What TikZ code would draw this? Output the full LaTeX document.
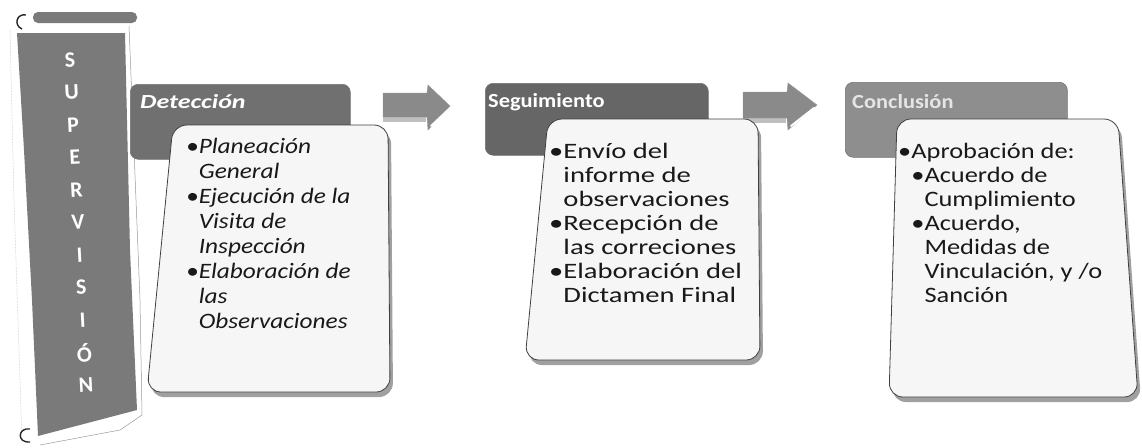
\documentclass[tikz,border=0pt]{standalone}
\usepackage{fontspec}
\setmainfont{Carlito}
\newfontfamily\detfont[FakeStretch=1.15]{Carlito}
\newfontfamily\segfont[FakeStretch=1.3]{Carlito}
\newfontfamily\confont[FakeStretch=1.2]{Carlito}
\newfontfamily\hdfontA[FakeStretch=1.3]{Carlito}
\newfontfamily\hdfontB[FakeStretch=1.12]{Carlito}
\newcommand{\firstline}{\rule{0pt}{20pt}}
\definecolor{bandgray}{HTML}{7A7A7A}
\definecolor{detgray}{HTML}{707070}
\definecolor{seggray}{HTML}{666666}
\definecolor{congray}{HTML}{8E8E8E}
\definecolor{boxfill}{HTML}{F6F6F6}
\definecolor{shadowgray}{HTML}{A0A0A0}
\definecolor{arrowgray}{HTML}{8A8A8A}
\begin{document}
\begin{tikzpicture}[x=1pt,y=-1pt,
  banletter/.style={text=white,font=\bfseries\fontsize{22}{22}\selectfont,inner sep=0pt,rotate=3},
  hdrbox/.style={rounded corners=8pt,draw=black!55,line width=0.6pt,inner sep=0pt,anchor=north west},
  hdrtext/.style={text=white,inner sep=0pt,anchor=base west},
  cardbox/.style={fill=boxfill,draw=black!75,line width=0.8pt,rounded corners=14pt},
  cardshadow/.style={fill=shadowgray,rounded corners=14pt},
  bodytext/.style={text=black!90,inner sep=0pt,anchor=north west,align=left},
  blockarrow/.style={fill=arrowgray,draw=black!40,line width=0.4pt},
  highlight/.style={draw=white,line width=2pt,line cap=round}
]
\useasboundingbox (0,0) rectangle (1142,447);
\fill[white] (0,0) rectangle (1142,447);

% ---- scroll banner ----
\draw[black!30,line width=0.5pt,densely dotted] (10,30) -- (14,200) -- (22,440);
\draw[black!40,line width=0.5pt] (129,26) -- (134,150) -- (140,300) -- (142,415) -- (120,430) -- (40,445);
\fill[bandgray] (17,33) -- (125,33) -- (130,250) -- (137,410) -- (38,436) -- (32,300) -- (24,150) -- cycle;
\fill[bandgray,rounded corners=5pt] (33,12) rectangle (137,23);
\draw[black!85,line width=1.4pt] (26,15) .. controls (17,13) and (13,25) .. (22,29);
\draw[black!85,line width=1.4pt] (30,429) .. controls (18,427) and (16,443) .. (30,442);
\foreach \l [count=\i from 0] in {S,U,P,E,R,V,I,S,I,Ó,N}
  \node[banletter] (ban\i) at ({70+1.6*\i},{60+32.5*\i}) {\l};

% ---- arrows ----
\fill[black!25] (383,116) rectangle (426,122);
\path[blockarrow] (383,93) -- (427,93) -- (428,85) -- (450,106) -- (428,130) -- (427,117) -- (383,117) -- cycle;
\draw[highlight] (431,126) -- (448,110);
\coordinate (arrowA) at (416,106);

\fill[black!25] (743,117) rectangle (786,123);
\path[blockarrow] (743,92) -- (787,92) -- (788,83) -- (817,105) -- (788,130) -- (787,118) -- (743,118) -- cycle;
\draw[highlight] (791,126) -- (814,108);
\coordinate (arrowB) at (780,106);

% ---- headers ----
\node[hdrbox,fill=detgray,minimum width=220,minimum height=75] (dethdr) at (130,84) {};
\node[hdrbox,fill=seggray,minimum width=223,minimum height=72] (seghdr) at (485,83) {};
\node[hdrbox,fill=congray,minimum width=222,minimum height=75] (conhdr) at (845,82) {};
\node[hdrtext,font=\hdfontA\bfseries\itshape\fontsize{20}{20}\selectfont] (dettitle) at (140,108) {Detección};
\node[hdrtext,font=\hdfontB\bfseries\fontsize{20}{20}\selectfont] (segtitle) at (488,107) {Seguimiento};
\node[hdrtext,font=\hdfontB\bfseries\fontsize{20}{20}\selectfont,text=black!10] (contitle) at (852,108) {Conclusión};

% ---- cards ----
\fill[cardshadow] (280,130) -- (391,130) -- (393,397) -- (150,397) -- (176,130) -- cycle;
\path[cardbox] (280,125) -- (388,125) -- (390,392) -- (147,392) -- (173,125) -- cycle;
\fill[cardshadow] (650,124) -- (761,124) -- (763,365) -- (528,365) -- (551,124) -- cycle;
\path[cardbox] (650,119) -- (758,119) -- (760,360) -- (525,360) -- (548,119) -- cycle;
\fill[cardshadow] (1000,124) -- (1121,124) -- (1141,402) -- (892,402) -- (900,124) -- cycle;
\path[cardbox] (1000,119) -- (1118,119) -- (1138,397) -- (889,397) -- (897,119) -- cycle;

% ---- card texts ----
\node[bodytext,font=\detfont\itshape\fontsize{22}{25}\selectfont] (dettext) at (186,133)
  {\firstline•Planeación\\
   \hphantom{•}General\\
   •Ejecución de la\\
   \hphantom{•}Visita de\\
   \hphantom{•}Inspección\\
   •Elaboración de\\
   \hphantom{•}las\\
   \hphantom{•}Observaciones};
\node[bodytext,font=\segfont\fontsize{22}{24}\selectfont] (segtext) at (549,138)
  {\firstline•Envío del\\
   \hphantom{•}informe de\\
   \hphantom{•}observaciones\\
   •Recepción de\\
   \hphantom{•}las correciones\\
   •Elaboración del\\
   \hphantom{•}Dictamen Final};
\node[bodytext,font=\confont\fontsize{22}{24}\selectfont] (context) at (898,138)
  {\firstline•Aprobación de:\\
   \hphantom{•}•Acuerdo de\\
   \hphantom{••}Cumplimiento\\
   \hphantom{•}•Acuerdo,\\
   \hphantom{••}Medidas de\\
   \hphantom{••}Vinculación, y /o\\
   \hphantom{••}Sanción};
\end{tikzpicture}
\end{document}
